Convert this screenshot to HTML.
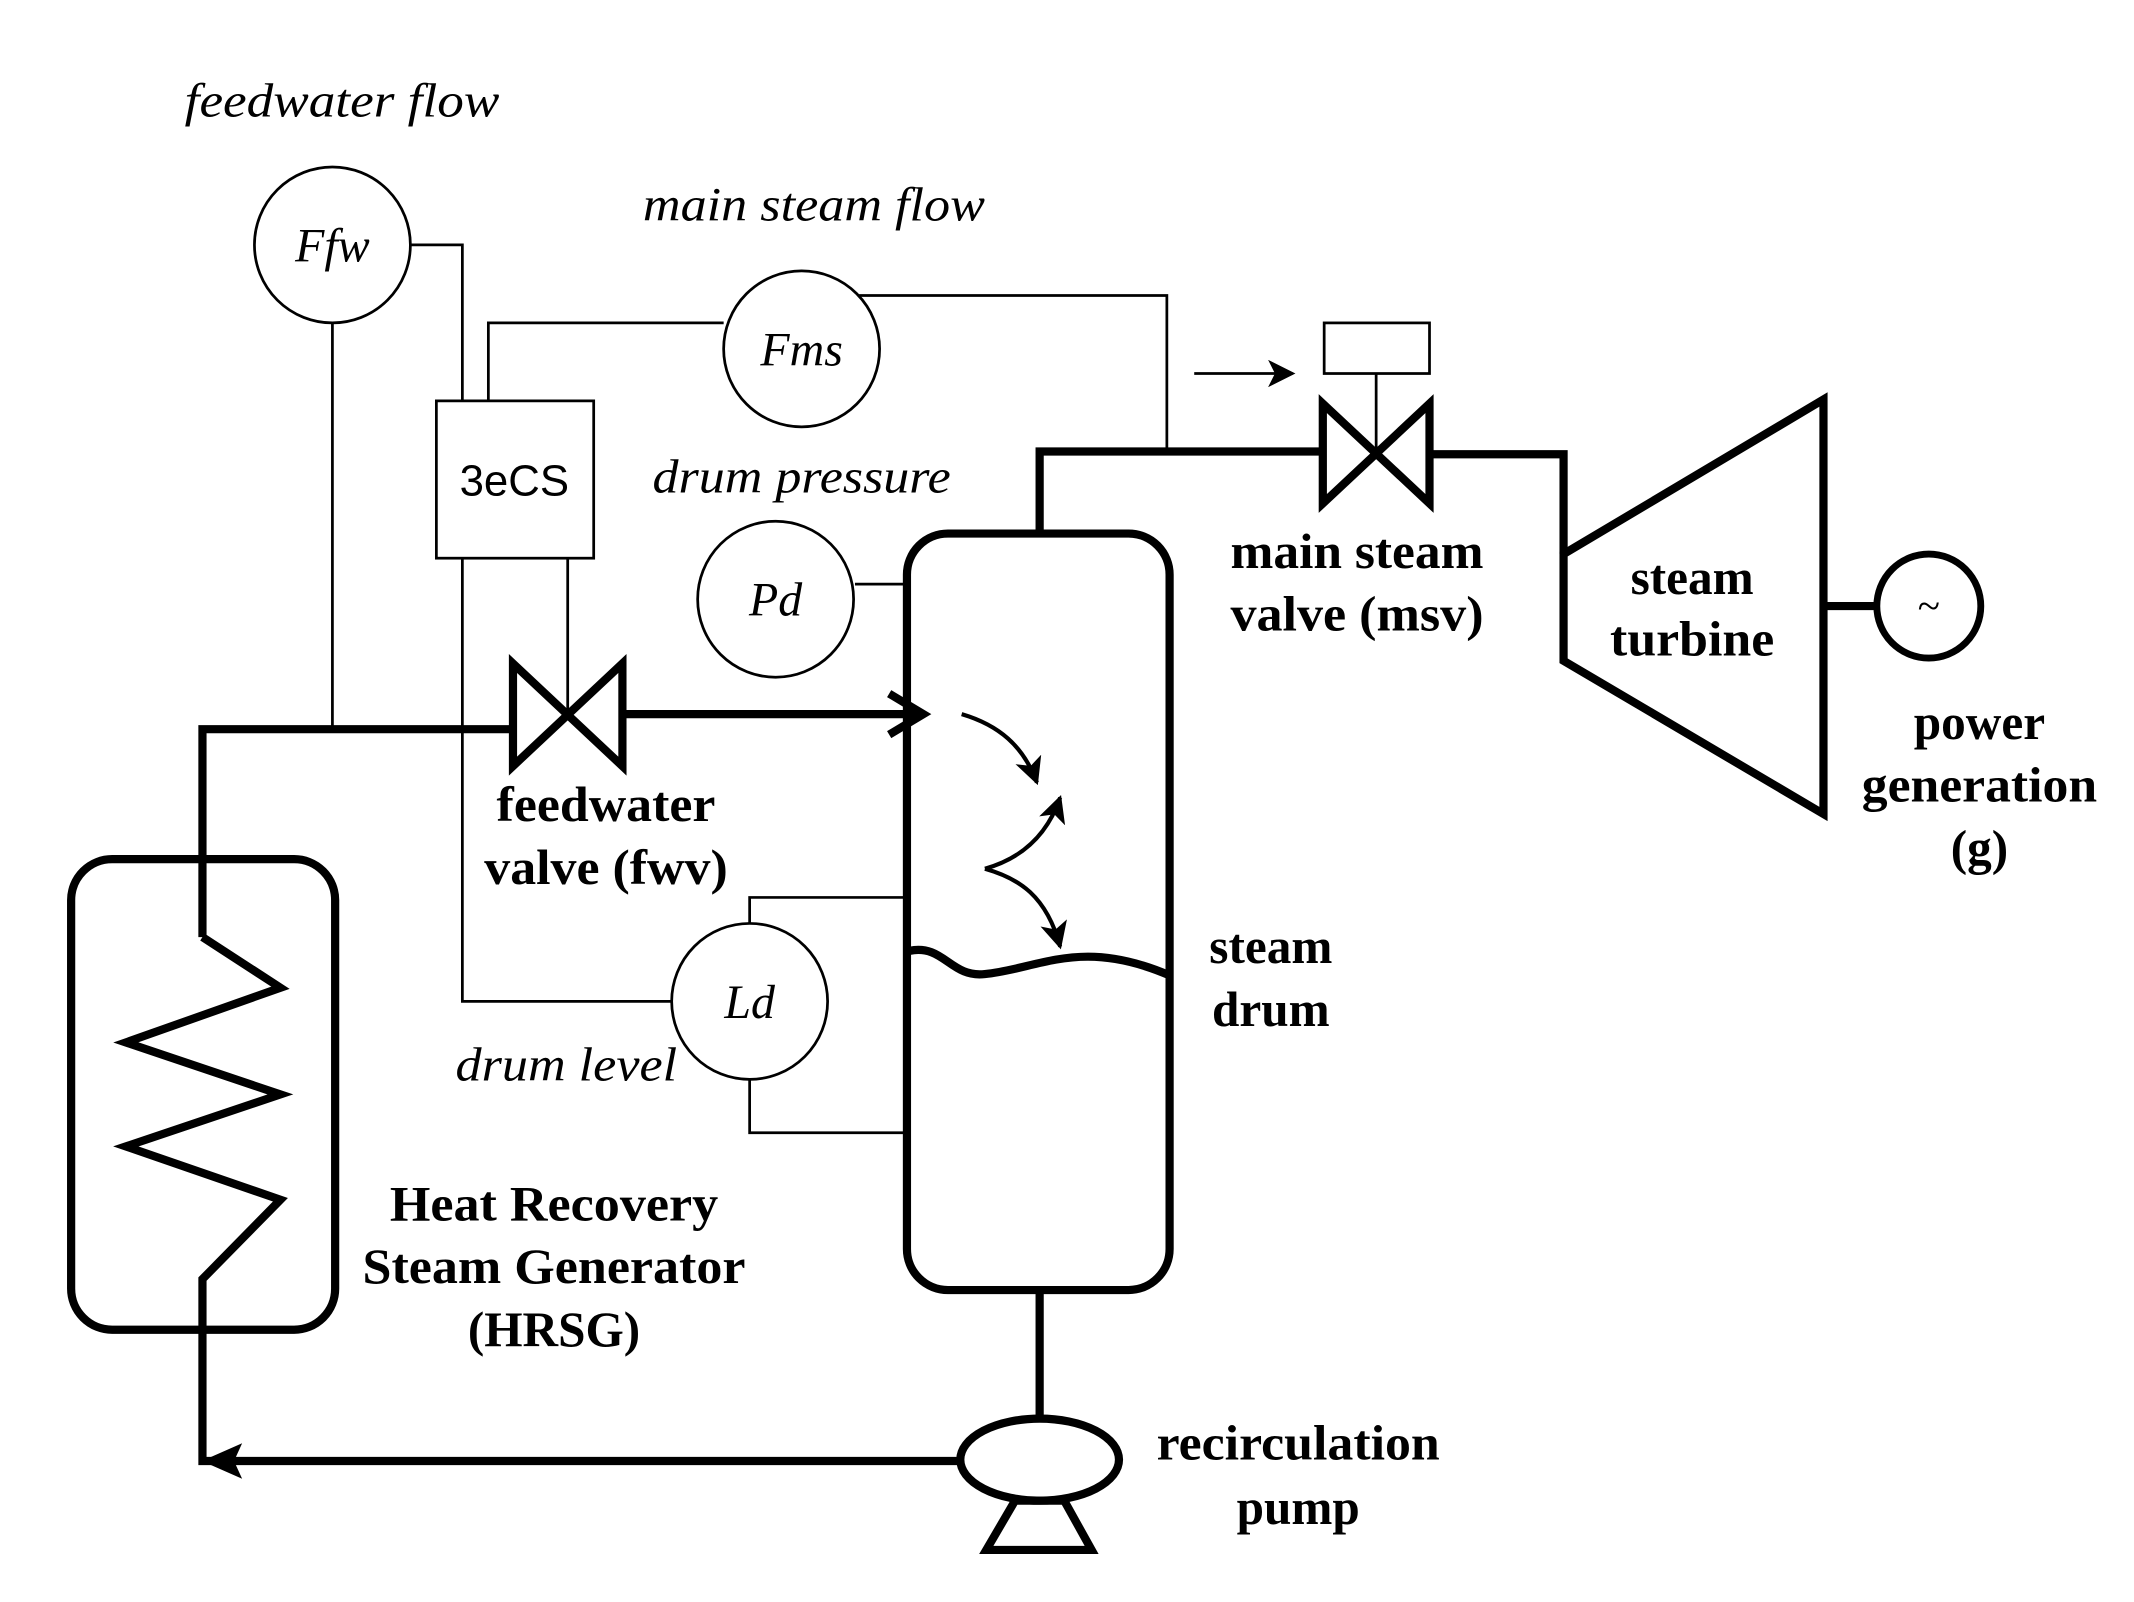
<!DOCTYPE html>
<html><head><meta charset="utf-8"><style>
html,body{margin:0;padding:0;background:#fff;}
svg{display:block;}
text{font-family:"Liberation Serif",serif;fill:#000;}
.it{font-style:italic;font-size:35px;}
.b{font-weight:bold;font-size:36px;text-anchor:middle;}
</style></head><body>
<svg width="2134" height="1602" viewBox="0 0 1560 1171" xmlns="http://www.w3.org/2000/svg">
<defs>
<marker id="ah" viewBox="0 0 20 20" markerWidth="20" markerHeight="20" refX="18" refY="10" orient="auto" markerUnits="userSpaceOnUse">
<path d="M0,0 L20,10 L0,20 L5,10 z" fill="#000"/></marker>
</defs>
<g fill="none" stroke="#000" stroke-width="2">
<circle cx="243" cy="179" r="57"/>
<circle cx="586" cy="255" r="57"/>
<circle cx="567" cy="438" r="57"/>
<circle cx="548" cy="732" r="57"/>
<rect x="319" y="293" width="115" height="115"/>
<polyline points="300,179 338,179 338,293"/>
<polyline points="338,408 338,732 491,732"/>
<polyline points="529,236 357,236 357,293"/>
<polyline points="628,216 853,216 853,330"/>
<line x1="415" y1="408" x2="415" y2="522"/>
<line x1="243" y1="236" x2="243" y2="533"/>
<line x1="625" y1="427" x2="663" y2="427"/>
<polyline points="548,675 548,656 663,656"/>
<polyline points="548,789 548,828 663,828"/>
<line x1="873" y1="273" x2="945" y2="273" marker-end="url(#ah)"/>
<rect x="968" y="236" width="77" height="37"/>
<line x1="1006" y1="273" x2="1006" y2="332"/>
</g>
<g fill="none" stroke="#000" stroke-width="6" stroke-linejoin="miter">
<rect x="663" y="390" width="192" height="553" rx="30"/>
<polyline points="760,390 760,330 967,330"/>
<polyline points="1045,332 1143,332 1143,405"/>
<polygon points="967,295 1045,368 1045,295 967,368"/>
<polygon points="1143,405 1333,292 1333,595 1143,483"/>
<line x1="1333" y1="443" x2="1372" y2="443"/>
<circle cx="1410" cy="443" r="38" stroke-width="5"/>
<polygon points="375,485 455,560 455,485 375,560"/>
<polyline points="148,685 148,533 375,533"/>
<line x1="455" y1="522" x2="670" y2="522"/>
<polyline points="650,507 675,522 650,537"/>
<rect x="52" y="628" width="193" height="344" rx="30"/>
<polyline points="148,685 205,722 92,762 205,800 92,838 205,877 148,935 148,1068 165,1068"/>
<line x1="160" y1="1068" x2="702" y2="1068"/>
<line x1="760" y1="943" x2="760" y2="1037"/>
<ellipse cx="760" cy="1067" rx="58" ry="30"/>
<polygon points="742,1097 778,1097 798,1133 721,1133"/>
<path d="M665,695 C690,690 695,715 720,712 C760,708 790,685 855,713"/>
</g>
<path d="M150,1068 L175,1057 L170,1068 L175,1079 z" fill="#000" stroke="#000" stroke-width="2"/>
<g fill="none" stroke="#000" stroke-width="3">
<path d="M703,522 C730,530 748,545 758,572" marker-end="url(#ah)"/>
<path d="M720,635 C745,628 765,612 775,583" marker-end="url(#ah)"/>
<path d="M720,635 C745,642 765,655 775,692" marker-end="url(#ah)"/>
</g>
<text class="it" x="135" y="85" textLength="230" lengthAdjust="spacingAndGlyphs">feedwater flow</text>
<text class="it" x="470" y="161" textLength="250" lengthAdjust="spacingAndGlyphs">main steam flow</text>
<text class="it" x="477" y="360" textLength="218" lengthAdjust="spacingAndGlyphs">drum pressure</text>
<text class="it" x="333" y="790" textLength="162" lengthAdjust="spacingAndGlyphs">drum level</text>
<text class="it" x="243" y="191" text-anchor="middle">Ffw</text>
<text class="it" x="586" y="267" text-anchor="middle">Fms</text>
<text class="it" x="567" y="450" text-anchor="middle">Pd</text>
<text class="it" x="548" y="744" text-anchor="middle">Ld</text>
<text x="376" y="362" text-anchor="middle" style="font-size:32px;font-family:'Liberation Sans',sans-serif">3eCS</text>
<text x="1410" y="453" text-anchor="middle" style="font-size:30px">~</text>
<text class="b" x="443" y="600" textLength="160" lengthAdjust="spacingAndGlyphs">feedwater</text>
<text class="b" x="443" y="646" textLength="178" lengthAdjust="spacingAndGlyphs">valve (fwv)</text>
<text class="b" x="992" y="415" textLength="185" lengthAdjust="spacingAndGlyphs">main steam</text>
<text class="b" x="992" y="461" textLength="185" lengthAdjust="spacingAndGlyphs">valve (msv)</text>
<text class="b" x="1237" y="434">steam</text>
<text class="b" x="1237" y="479" textLength="120" lengthAdjust="spacingAndGlyphs">turbine</text>
<text class="b" x="1447" y="540">power</text>
<text class="b" x="1447" y="586" textLength="172" lengthAdjust="spacingAndGlyphs">generation</text>
<text class="b" x="1447" y="632">(g)</text>
<text class="b" x="929" y="704">steam</text>
<text class="b" x="929" y="750">drum</text>
<text class="b" x="405" y="892" textLength="240" lengthAdjust="spacingAndGlyphs">Heat Recovery</text>
<text class="b" x="405" y="938" textLength="280" lengthAdjust="spacingAndGlyphs">Steam Generator</text>
<text class="b" x="405" y="984">(HRSG)</text>
<text class="b" x="949" y="1067" textLength="207" lengthAdjust="spacingAndGlyphs">recirculation</text>
<text class="b" x="949" y="1114">pump</text>
</svg>
</body></html>
